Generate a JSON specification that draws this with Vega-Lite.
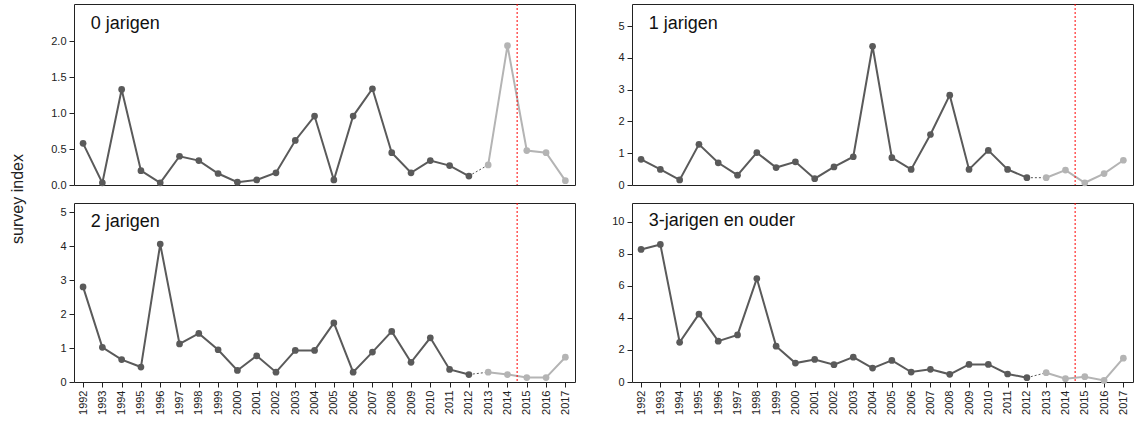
{
  "$schema": "https://vega.github.io/schema/vega-lite/v6.json",
  "background": "white",
  "padding": {"left": 10, "top": 3, "right": 2, "bottom": 2},
  "bounds": "flush",
  "columns": 2,
  "spacing": {"row": 18, "column": 57},
  "title": {"text": "survey index", "orient": "left", "anchor": "middle", "fontSize": 16, "fontWeight": "normal", "font": "Liberation Sans", "color": "#222", "offset": 24, "dx": 10},
  "datasets": {
    "survey": [
      {"panel": "0", "year": 1992, "value": 0.58, "period": "a"},
      {"panel": "0", "year": 1993, "value": 0.03, "period": "a"},
      {"panel": "0", "year": 1994, "value": 1.33, "period": "a"},
      {"panel": "0", "year": 1995, "value": 0.2, "period": "a"},
      {"panel": "0", "year": 1996, "value": 0.03, "period": "a"},
      {"panel": "0", "year": 1997, "value": 0.4, "period": "a"},
      {"panel": "0", "year": 1998, "value": 0.34, "period": "a"},
      {"panel": "0", "year": 1999, "value": 0.16, "period": "a"},
      {"panel": "0", "year": 2000, "value": 0.04, "period": "a"},
      {"panel": "0", "year": 2001, "value": 0.07, "period": "a"},
      {"panel": "0", "year": 2002, "value": 0.17, "period": "a"},
      {"panel": "0", "year": 2003, "value": 0.62, "period": "a"},
      {"panel": "0", "year": 2004, "value": 0.96, "period": "a"},
      {"panel": "0", "year": 2005, "value": 0.07, "period": "a"},
      {"panel": "0", "year": 2006, "value": 0.96, "period": "a"},
      {"panel": "0", "year": 2007, "value": 1.34, "period": "a"},
      {"panel": "0", "year": 2008, "value": 0.45, "period": "a"},
      {"panel": "0", "year": 2009, "value": 0.17, "period": "a"},
      {"panel": "0", "year": 2010, "value": 0.34, "period": "a"},
      {"panel": "0", "year": 2011, "value": 0.27, "period": "a"},
      {"panel": "0", "year": 2012, "value": 0.125, "period": "a"},
      {"panel": "0", "year": 2013, "value": 0.28, "period": "b"},
      {"panel": "0", "year": 2014, "value": 1.94, "period": "b"},
      {"panel": "0", "year": 2015, "value": 0.48, "period": "b"},
      {"panel": "0", "year": 2016, "value": 0.45, "period": "b"},
      {"panel": "0", "year": 2017, "value": 0.06, "period": "b"},

      {"panel": "1", "year": 1992, "value": 0.81, "period": "a"},
      {"panel": "1", "year": 1993, "value": 0.49, "period": "a"},
      {"panel": "1", "year": 1994, "value": 0.16, "period": "a"},
      {"panel": "1", "year": 1995, "value": 1.28, "period": "a"},
      {"panel": "1", "year": 1996, "value": 0.7, "period": "a"},
      {"panel": "1", "year": 1997, "value": 0.31, "period": "a"},
      {"panel": "1", "year": 1998, "value": 1.02, "period": "a"},
      {"panel": "1", "year": 1999, "value": 0.55, "period": "a"},
      {"panel": "1", "year": 2000, "value": 0.73, "period": "a"},
      {"panel": "1", "year": 2001, "value": 0.2, "period": "a"},
      {"panel": "1", "year": 2002, "value": 0.57, "period": "a"},
      {"panel": "1", "year": 2003, "value": 0.89, "period": "a"},
      {"panel": "1", "year": 2004, "value": 4.37, "period": "a"},
      {"panel": "1", "year": 2005, "value": 0.86, "period": "a"},
      {"panel": "1", "year": 2006, "value": 0.49, "period": "a"},
      {"panel": "1", "year": 2007, "value": 1.59, "period": "a"},
      {"panel": "1", "year": 2008, "value": 2.83, "period": "a"},
      {"panel": "1", "year": 2009, "value": 0.49, "period": "a"},
      {"panel": "1", "year": 2010, "value": 1.09, "period": "a"},
      {"panel": "1", "year": 2011, "value": 0.49, "period": "a"},
      {"panel": "1", "year": 2012, "value": 0.23, "period": "a"},
      {"panel": "1", "year": 2013, "value": 0.23, "period": "b"},
      {"panel": "1", "year": 2014, "value": 0.47, "period": "b"},
      {"panel": "1", "year": 2015, "value": 0.07, "period": "b"},
      {"panel": "1", "year": 2016, "value": 0.36, "period": "b"},
      {"panel": "1", "year": 2017, "value": 0.78, "period": "b"},

      {"panel": "2", "year": 1992, "value": 2.8, "period": "a"},
      {"panel": "2", "year": 1993, "value": 1.02, "period": "a"},
      {"panel": "2", "year": 1994, "value": 0.66, "period": "a"},
      {"panel": "2", "year": 1995, "value": 0.44, "period": "a"},
      {"panel": "2", "year": 1996, "value": 4.06, "period": "a"},
      {"panel": "2", "year": 1997, "value": 1.12, "period": "a"},
      {"panel": "2", "year": 1998, "value": 1.43, "period": "a"},
      {"panel": "2", "year": 1999, "value": 0.95, "period": "a"},
      {"panel": "2", "year": 2000, "value": 0.34, "period": "a"},
      {"panel": "2", "year": 2001, "value": 0.77, "period": "a"},
      {"panel": "2", "year": 2002, "value": 0.29, "period": "a"},
      {"panel": "2", "year": 2003, "value": 0.93, "period": "a"},
      {"panel": "2", "year": 2004, "value": 0.93, "period": "a"},
      {"panel": "2", "year": 2005, "value": 1.74, "period": "a"},
      {"panel": "2", "year": 2006, "value": 0.29, "period": "a"},
      {"panel": "2", "year": 2007, "value": 0.88, "period": "a"},
      {"panel": "2", "year": 2008, "value": 1.49, "period": "a"},
      {"panel": "2", "year": 2009, "value": 0.58, "period": "a"},
      {"panel": "2", "year": 2010, "value": 1.3, "period": "a"},
      {"panel": "2", "year": 2011, "value": 0.37, "period": "a"},
      {"panel": "2", "year": 2012, "value": 0.22, "period": "a"},
      {"panel": "2", "year": 2013, "value": 0.29, "period": "b"},
      {"panel": "2", "year": 2014, "value": 0.22, "period": "b"},
      {"panel": "2", "year": 2015, "value": 0.13, "period": "b"},
      {"panel": "2", "year": 2016, "value": 0.13, "period": "b"},
      {"panel": "2", "year": 2017, "value": 0.73, "period": "b"},

      {"panel": "3", "year": 1992, "value": 8.28, "period": "a"},
      {"panel": "3", "year": 1993, "value": 8.59, "period": "a"},
      {"panel": "3", "year": 1994, "value": 2.48, "period": "a"},
      {"panel": "3", "year": 1995, "value": 4.24, "period": "a"},
      {"panel": "3", "year": 1996, "value": 2.55, "period": "a"},
      {"panel": "3", "year": 1997, "value": 2.94, "period": "a"},
      {"panel": "3", "year": 1998, "value": 6.46, "period": "a"},
      {"panel": "3", "year": 1999, "value": 2.24, "period": "a"},
      {"panel": "3", "year": 2000, "value": 1.18, "period": "a"},
      {"panel": "3", "year": 2001, "value": 1.41, "period": "a"},
      {"panel": "3", "year": 2002, "value": 1.08, "period": "a"},
      {"panel": "3", "year": 2003, "value": 1.55, "period": "a"},
      {"panel": "3", "year": 2004, "value": 0.87, "period": "a"},
      {"panel": "3", "year": 2005, "value": 1.35, "period": "a"},
      {"panel": "3", "year": 2006, "value": 0.62, "period": "a"},
      {"panel": "3", "year": 2007, "value": 0.79, "period": "a"},
      {"panel": "3", "year": 2008, "value": 0.48, "period": "a"},
      {"panel": "3", "year": 2009, "value": 1.1, "period": "a"},
      {"panel": "3", "year": 2010, "value": 1.1, "period": "a"},
      {"panel": "3", "year": 2011, "value": 0.5, "period": "a"},
      {"panel": "3", "year": 2012, "value": 0.27, "period": "a"},
      {"panel": "3", "year": 2013, "value": 0.58, "period": "b"},
      {"panel": "3", "year": 2014, "value": 0.21, "period": "b"},
      {"panel": "3", "year": 2015, "value": 0.33, "period": "b"},
      {"panel": "3", "year": 2016, "value": 0.1, "period": "b"},
      {"panel": "3", "year": 2017, "value": 1.49, "period": "b"}
    ]
  },
  "concat": [
    {
      "width": 501,
      "height": 181,
      "encoding": {
        "x": {"field": "year", "type": "quantitative", "scale": {"domain": [1991.53, 2017.5], "nice": false, "zero": false}, "axis": null},
        "y": {"field": "value", "type": "quantitative", "title": null, "scale": {"domain": [0, 2.52], "nice": false}, "axis": {"values": [0, 0.5, 1, 1.5, 2], "format": ".1f"}}
      },
      "layer": [
        {"data": {"name": "survey"}, "transform": [{"filter": "datum.panel == '0' && (datum.year == 2012 || datum.year == 2013)"}], "mark": {"type": "line", "color": "#555", "strokeWidth": 1, "strokeDash": [2, 2]}},
        {"data": {"name": "survey"}, "transform": [{"filter": "datum.panel == '0'"}], "mark": {"type": "line", "strokeWidth": 2, "point": {"filled": true, "size": 45, "opacity": 1}}, "encoding": {"color": {"field": "period", "type": "nominal", "scale": {"domain": ["a", "b"], "range": ["#5a5a5a", "#b4b4b4"]}, "legend": null}}},
        {"data": {"values": [{"cut": 2014.5}]}, "mark": {"type": "rule", "color": "#ff0000", "strokeWidth": 1, "strokeDash": [2, 2]}, "encoding": {"x": {"field": "cut", "type": "quantitative"}, "y": null}},
        {"data": {"values": [{"label": "0 jarigen", "lx": 1992.4, "ly": 2.24}]}, "mark": {"type": "text", "align": "left", "baseline": "middle", "fontSize": 18, "fontWeight": "normal", "font": "Liberation Sans", "color": "#111"}, "encoding": {"x": {"field": "lx", "type": "quantitative"}, "y": {"field": "ly", "type": "quantitative"}, "text": {"field": "label"}}}
      ]
    },
    {
      "width": 501,
      "height": 181,
      "encoding": {
        "x": {"field": "year", "type": "quantitative", "scale": {"domain": [1991.53, 2017.5], "nice": false, "zero": false}, "axis": null},
        "y": {"field": "value", "type": "quantitative", "title": null, "scale": {"domain": [0, 5.7], "nice": false}, "axis": {"values": [0, 1, 2, 3, 4, 5], "format": "d"}}
      },
      "layer": [
        {"data": {"name": "survey"}, "transform": [{"filter": "datum.panel == '1' && (datum.year == 2012 || datum.year == 2013)"}], "mark": {"type": "line", "color": "#555", "strokeWidth": 1, "strokeDash": [2, 2]}},
        {"data": {"name": "survey"}, "transform": [{"filter": "datum.panel == '1'"}], "mark": {"type": "line", "strokeWidth": 2, "point": {"filled": true, "size": 45, "opacity": 1}}, "encoding": {"color": {"field": "period", "type": "nominal", "scale": {"domain": ["a", "b"], "range": ["#5a5a5a", "#b4b4b4"]}, "legend": null}}},
        {"data": {"values": [{"cut": 2014.5}]}, "mark": {"type": "rule", "color": "#ff0000", "strokeWidth": 1, "strokeDash": [2, 2]}, "encoding": {"x": {"field": "cut", "type": "quantitative"}, "y": null}},
        {"data": {"values": [{"label": "1 jarigen", "lx": 1992.4, "ly": 5.07}]}, "mark": {"type": "text", "align": "left", "baseline": "middle", "fontSize": 18, "fontWeight": "normal", "font": "Liberation Sans", "color": "#111"}, "encoding": {"x": {"field": "lx", "type": "quantitative"}, "y": {"field": "ly", "type": "quantitative"}, "text": {"field": "label"}}}
      ]
    },
    {
      "width": 501,
      "height": 179,
      "encoding": {
        "x": {"field": "year", "type": "quantitative", "title": null, "scale": {"domain": [1991.53, 2017.5], "nice": false, "zero": false}, "axis": {"values": [1992, 1993, 1994, 1995, 1996, 1997, 1998, 1999, 2000, 2001, 2002, 2003, 2004, 2005, 2006, 2007, 2008, 2009, 2010, 2011, 2012, 2013, 2014, 2015, 2016, 2017], "format": "d", "labelAngle": 270, "labelAlign": "right", "labelBaseline": "middle"}},
        "y": {"field": "value", "type": "quantitative", "title": null, "scale": {"domain": [0, 5.27], "nice": false}, "axis": {"values": [0, 1, 2, 3, 4, 5], "format": "d"}}
      },
      "layer": [
        {"data": {"name": "survey"}, "transform": [{"filter": "datum.panel == '2' && (datum.year == 2012 || datum.year == 2013)"}], "mark": {"type": "line", "color": "#555", "strokeWidth": 1, "strokeDash": [2, 2]}},
        {"data": {"name": "survey"}, "transform": [{"filter": "datum.panel == '2'"}], "mark": {"type": "line", "strokeWidth": 2, "point": {"filled": true, "size": 45, "opacity": 1}}, "encoding": {"color": {"field": "period", "type": "nominal", "scale": {"domain": ["a", "b"], "range": ["#5a5a5a", "#b4b4b4"]}, "legend": null}}},
        {"data": {"values": [{"cut": 2014.5}]}, "mark": {"type": "rule", "color": "#ff0000", "strokeWidth": 1, "strokeDash": [2, 2]}, "encoding": {"x": {"field": "cut", "type": "quantitative"}, "y": null}},
        {"data": {"values": [{"label": "2 jarigen", "lx": 1992.4, "ly": 4.72}]}, "mark": {"type": "text", "align": "left", "baseline": "middle", "fontSize": 18, "fontWeight": "normal", "font": "Liberation Sans", "color": "#111"}, "encoding": {"x": {"field": "lx", "type": "quantitative"}, "y": {"field": "ly", "type": "quantitative"}, "text": {"field": "label"}}}
      ]
    },
    {
      "width": 501,
      "height": 179,
      "encoding": {
        "x": {"field": "year", "type": "quantitative", "title": null, "scale": {"domain": [1991.53, 2017.5], "nice": false, "zero": false}, "axis": {"values": [1992, 1993, 1994, 1995, 1996, 1997, 1998, 1999, 2000, 2001, 2002, 2003, 2004, 2005, 2006, 2007, 2008, 2009, 2010, 2011, 2012, 2013, 2014, 2015, 2016, 2017], "format": "d", "labelAngle": 270, "labelAlign": "right", "labelBaseline": "middle"}},
        "y": {"field": "value", "type": "quantitative", "title": null, "scale": {"domain": [0, 11.18], "nice": false}, "axis": {"values": [0, 2, 4, 6, 8, 10], "format": "d"}}
      },
      "layer": [
        {"data": {"name": "survey"}, "transform": [{"filter": "datum.panel == '3' && (datum.year == 2012 || datum.year == 2013)"}], "mark": {"type": "line", "color": "#555", "strokeWidth": 1, "strokeDash": [2, 2]}},
        {"data": {"name": "survey"}, "transform": [{"filter": "datum.panel == '3'"}], "mark": {"type": "line", "strokeWidth": 2, "point": {"filled": true, "size": 45, "opacity": 1}}, "encoding": {"color": {"field": "period", "type": "nominal", "scale": {"domain": ["a", "b"], "range": ["#5a5a5a", "#b4b4b4"]}, "legend": null}}},
        {"data": {"values": [{"cut": 2014.5}]}, "mark": {"type": "rule", "color": "#ff0000", "strokeWidth": 1, "strokeDash": [2, 2]}, "encoding": {"x": {"field": "cut", "type": "quantitative"}, "y": null}},
        {"data": {"values": [{"label": "3-jarigen en ouder", "lx": 1992.4, "ly": 10.05}]}, "mark": {"type": "text", "align": "left", "baseline": "middle", "fontSize": 18, "fontWeight": "normal", "font": "Liberation Sans", "color": "#111"}, "encoding": {"x": {"field": "lx", "type": "quantitative"}, "y": {"field": "ly", "type": "quantitative"}, "text": {"field": "label"}}}
      ]
    }
  ],
  "resolve": {"scale": {"color": "shared"}},
  "config": {
    "font": "Liberation Sans",
    "view": {"stroke": "#222", "strokeWidth": 1},
    "axis": {"grid": false, "domain": false, "tickColor": "#222", "tickSize": 5, "labelFont": "Liberation Sans", "labelFontSize": 11, "labelColor": "#222", "labelPadding": 3}
  }
}
